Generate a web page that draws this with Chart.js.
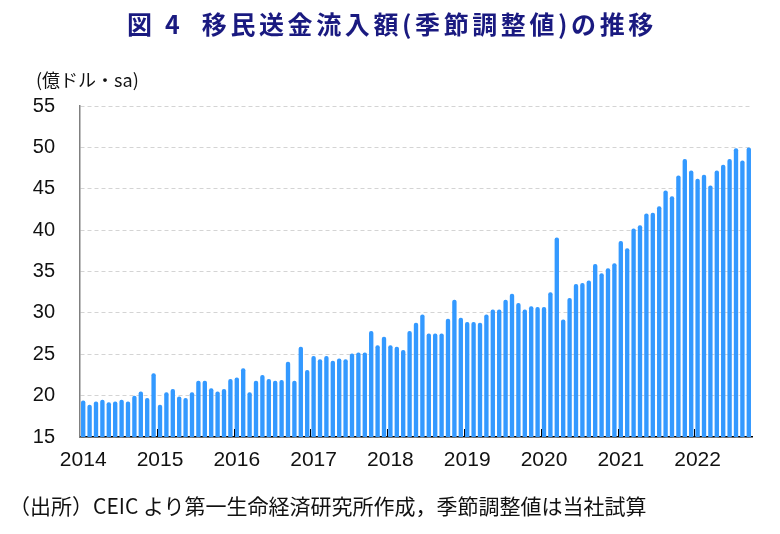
<!DOCTYPE html>
<html>
<head>
<meta charset="utf-8">
<script src="https://cdn.jsdelivr.net/npm/chart.js@4.4.1/dist/chart.umd.min.js"></script>
<style>
  body { margin: 0; background: #fff; }
  #wrap { position: relative; width: 780px; height: 534px; }
  #jsChart { position: absolute; left: 0; top: 0; }
  .txt { position: absolute; white-space: nowrap; color: #111; }
  #title { top: 5px; left: 0; width: 784px; text-align: center; font: bold 25px 'Noto Sans CJK JP', sans-serif; letter-spacing: 3.6px; color: #1a1a80; }
  #unit { top: 66px; left: 36px; font: 18px 'Noto Sans CJK JP', sans-serif; }
  #note { top: 490px; left: 9px; font: 21px 'Noto Sans CJK JP', sans-serif; }
</style>
</head>
<body>
<div id="wrap">
  <canvas id="jsChart" width="780" height="534"></canvas>
  <div class="txt" id="title">図 4&nbsp;&nbsp;移民送金流入額(季節調整値)の推移</div>
  <div class="txt" id="unit">(億ドル・sa)</div>
  <div class="txt" id="note">（出所）CEIC より第一生命経済研究所作成，季節調整値は当社試算</div>
</div>
<script>
'use strict';

// year tick labels, one per January
const years = ['2014', '2015', '2016', '2017', '2018', '2019', '2020', '2021', '2022'];

// monthly remittance inflows, 100 million USD, seasonally adjusted
const v2014 = [19.4, 18.9, 19.3, 19.5, 19.2, 19.3, 19.5, 19.3, 20.0, 20.5, 19.7, 22.7];
const v2015 = [18.9, 20.4, 20.8, 19.9, 19.7, 20.4, 21.8, 21.8, 20.9, 20.5, 20.8, 22.0];
const v2016 = [22.2, 23.3, 20.4, 21.8, 22.5, 22.0, 21.8, 21.9, 24.1, 21.8, 25.9, 23.1];
const v2017 = [24.8, 24.4, 24.8, 24.2, 24.5, 24.4, 25.1, 25.2, 25.2, 27.8, 26.1, 27.1];
const v2018 = [26.1, 25.9, 25.5, 27.8, 28.8, 29.8, 27.5, 27.5, 27.5, 29.3, 31.6, 29.4];
const v2019 = [28.9, 28.9, 28.8, 29.8, 30.4, 30.4, 31.6, 32.3, 31.2, 30.4, 30.8, 30.7];
const v2020 = [30.7, 32.5, 39.1, 29.2, 31.8, 33.5, 33.6, 33.9, 35.9, 34.8, 35.4, 36.0];
const v2021 = [38.7, 37.8, 40.2, 40.6, 42.0, 42.1, 42.9, 44.8, 44.1, 46.6, 48.6, 47.2];
const v2022 = [46.2, 46.7, 45.4, 47.2, 47.9, 48.6, 49.9, 48.4, 50.0];

const values = [].concat(v2014, v2015, v2016, v2017, v2018, v2019, v2020, v2021, v2022);

let labels = [];
for (let i = 0; i < values.length; i++) {
  labels.push(years[Math.floor(i / 12)] + '/' + (i % 12 + 1));
}

// small tick marks pointing up into the plot at each year boundary
const yearTicks = {
  id: 'yearTicks',
  afterDatasetsDraw(chart) {
    const x = chart.scales.x;
    const ctx = chart.ctx;
    const bottom = chart.chartArea.bottom;
    ctx.save();
    ctx.strokeStyle = '#000';
    ctx.lineWidth = 1;
    for (let i = 12; i < values.length; i += 12) {
      const px = Math.round((x.getPixelForValue(i - 1) + x.getPixelForValue(i)) / 2) + 0.5;
      ctx.beginPath();
      ctx.moveTo(px, bottom);
      ctx.lineTo(px, bottom - 8);
      ctx.stroke();
    }
    ctx.restore();
  }
};

let ctx = document.getElementById('jsChart').getContext('2d');
let jsChart = new Chart(ctx, {
  type: 'bar',
  data: {
    labels: labels,
    datasets: [{
      data: values,
      backgroundColor: '#3399ff',
      borderWidth: 0,
      borderRadius: { topLeft: 2, topRight: 2 },
      borderSkipped: 'bottom',
      barPercentage: 0.68,
      categoryPercentage: 1.0
    }]
  },
  options: {
    responsive: false,
    animation: false,
    layout: { padding: { left: 0, right: 28, top: 106, bottom: 57 } },
    plugins: {
      legend: { display: false },
      tooltip: { enabled: false }
    },
    scales: {
      x: {
        offset: true,
        grid: { display: false, drawTicks: false },
        border: { display: true, color: '#000', width: 1.5 },
        afterFit(scale) { scale.height = 40; },
        ticks: {
          autoSkip: false,
          maxRotation: 0,
          padding: 11,
          color: '#111',
          font: { family: 'Liberation Sans', size: 21 },
          callback: function (val, idx) {
            return idx % 12 === 0 ? years[idx / 12] : '';
          }
        }
      },
      y: {
        min: 15,
        max: 55,
        afterFit(scale) { scale.width = 80; },
        grid: {
          drawTicks: false,
          color: '#d4d4d4',
          lineWidth: 1
        },
        border: { display: true, color: '#808080', width: 1.5, dash: [4, 3] },
        ticks: {
          stepSize: 5,
          padding: 25,
          color: '#111',
          font: { family: 'Liberation Sans', size: 20 }
        }
      }
    }
  },
  plugins: [yearTicks]
});
</script>
</body>
</html>
